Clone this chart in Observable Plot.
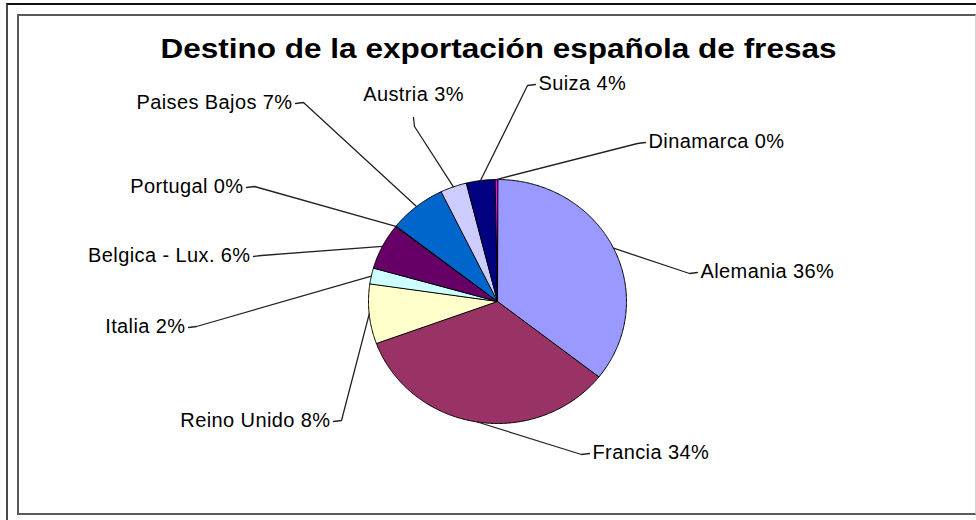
<!DOCTYPE html>
<html>
<head>
<meta charset="utf-8">
<script src="https://cdn.jsdelivr.net/npm/d3@7"></script>
<script src="https://cdn.jsdelivr.net/npm/@observablehq/plot@0.6"></script>
<style>
html, body { margin: 0; padding: 0; background: #fff; }
#wrap { position: relative; width: 976px; height: 520px; overflow: hidden; font-family: "Liberation Sans", Arial, sans-serif; }
#outer { position: absolute; left: 6px; top: 3px; right: -4px; bottom: -4px; border-top: 2px solid #111; border-left: 2px solid #4a4a4a; }
#inner { position: absolute; left: 17px; top: 14px; width: 956px; height: 497px; border-top: 2px solid #5a5a5a; border-left: 2px solid #5a5a5a; border-bottom: 2px solid #5a5a5a; border-right: 1px solid #d4d4d4; }
#chart { position: absolute; left: 0; top: 0; }
</style>
</head>
<body>
<div id="wrap"><div id="outer"></div><div id="inner"></div><div id="chart"></div></div>
<script>
// ---- data ----
const title = "Destino de la exportación española de fresas";
const countries = ["Alemania", "Francia", "Reino Unido", "Italia", "Belgica - Lux.", "Portugal", "Paises Bajos", "Austria", "Suiza", "Dinamarca"];
const shares = [35.6, 33.8, 7.9, 2.1, 6.1, 0.1, 7.2, 3.3, 3.6, 0.3];
const sliceColors = ["#9999FF", "#993366", "#FFFFCC", "#CCFFFF", "#660066", "#FF8080", "#0066CC", "#CCCCFF", "#000080", "#FF00FF"];

// ---- layout (pixel space) ----
const W = 976, H = 520;
const pie = {cx: 497, cy: 301, rx: 129, ry: 122};
// manually placed data labels (anchor point of the leader line next to each label)
const labelLayout = [
  {x: 700, y: 272, side: "start"},
  {x: 592, y: 453, side: "start"},
  {x: 330, y: 421, side: "end"},
  {x: 185, y: 327, side: "end"},
  {x: 250, y: 256, side: "end"},
  {x: 243, y: 187, side: "end"},
  {x: 292, y: 103, side: "end"},
  {x: 413, y: 95, side: "below"},
  {x: 538, y: 84, side: "start"},
  {x: 648, y: 142, side: "start"}
];

const arcs = d3.pie().sort(null).value(d => d)(shares);
const total = d3.sum(shares);
const pt = (a) => ({x: pie.cx + pie.rx * Math.sin(a), y: pie.cy - pie.ry * Math.cos(a)});

// slice polygons
const slicePts = [];
arcs.forEach((a, i) => {
  const name = countries[i];
  slicePts.push({name, color: sliceColors[i], x: pie.cx, y: pie.cy});
  const n = Math.max(2, Math.ceil((a.endAngle - a.startAngle) / 0.01));
  for (let k = 0; k <= n; k++) {
    const p = pt(a.startAngle + (a.endAngle - a.startAngle) * k / n);
    slicePts.push({name, color: sliceColors[i], x: p.x, y: p.y});
  }
});

// labels and leader lines
const labels = countries.map((c, i) => {
  const L = labelLayout[i];
  const pct = Math.round(shares[i] / total * 100);
  return {text: `${c} ${pct}%`, x: L.x, y: L.y,
    anchor: L.side === "start" ? "start" : L.side === "end" ? "end" : "middle",
    lineAnchor: L.side === "below" ? "middle" : "middle"};
});
const leaderPts = [];
arcs.forEach((a, i) => {
  const L = labelLayout[i];
  const e = pt((a.startAngle + a.endAngle) / 2);
  let s, b;
  if (L.side === "start") { s = {x: L.x - 3, y: L.y}; b = {x: L.x - 11, y: L.y + 1}; }
  else if (L.side === "end") { s = {x: L.x + 3, y: L.y}; b = {x: L.x + 11, y: L.y - 1}; }
  else { s = {x: L.x, y: L.y + 22}; b = {x: L.x + 1, y: L.y + 31}; }
  [s, b, e].forEach(p => leaderPts.push({name: countries[i], x: p.x, y: p.y}));
});

const chart = Plot.plot({
  width: W, height: H,
  margin: 0,
  x: {domain: [0, W], range: [0, W], axis: null},
  y: {domain: [0, H], range: [0, H], axis: null},
  color: {type: "identity"},
  style: {background: "transparent", fontFamily: "'Liberation Sans', Arial, sans-serif"},
  marks: [
    Plot.line(slicePts, {x: "x", y: "y", z: "name", fill: "color", stroke: "#000", strokeWidth: 1, curve: "linear-closed", strokeLinejoin: "round"}),
    Plot.line(leaderPts, {x: "x", y: "y", z: "name", stroke: "#222", strokeWidth: 1.3}),
    Plot.text(labels, {x: "x", y: "y", text: "text", textAnchor: "anchor", lineAnchor: "middle", dy: -1, fontSize: 20, fill: "#000", className: "lbl"}),
    Plot.text([title], {x: 498, y: 49, text: d => d, fontSize: 27, fontWeight: "bold", fill: "#000", className: "ttl"})
  ]
});
document.getElementById("chart").appendChild(chart);
// per-label text anchors
d3.select(chart).selectAll("g.lbl text").each(function(d, i) {
  this.setAttribute("text-anchor", labels[i].anchor);
  this.style.letterSpacing = "0.4px";
});
d3.select(chart).selectAll("g.ttl text").attr("textLength", 676).attr("lengthAdjust", "spacingAndGlyphs");
</script>
</body>
</html>
